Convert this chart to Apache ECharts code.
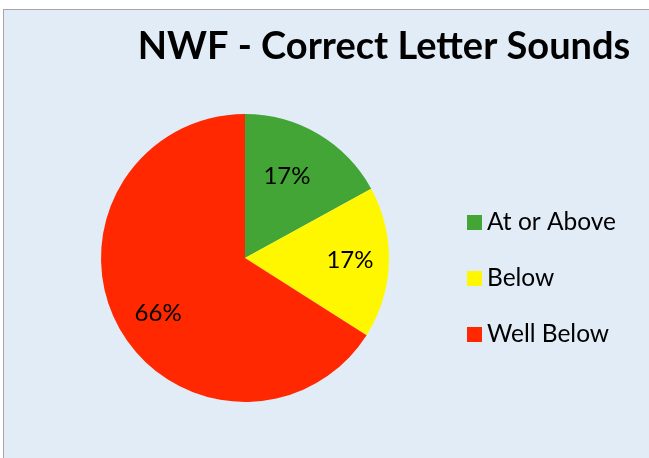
<!DOCTYPE html>
<html><head><meta charset="utf-8">
<script src="https://cdn.jsdelivr.net/npm/echarts@6/dist/echarts.min.js"></script>
<style>
html,body{margin:0;padding:0;background:#ffffff;width:649px;height:458px;overflow:hidden;}
#frame{position:absolute;left:3px;top:9px;width:700px;height:500px;border:1px solid #a6a6a6;background:#E2ECF6;}
#chart{position:absolute;left:0;top:0;width:649px;height:458px;}
</style></head>
<body>
<div id="frame"></div>
<div id="chart"></div>
<script>
const titleText = 'NWF - Correct Letter Sounds';
const categories = ['At or Above', 'Below', 'Well Below'];
const values = [17, 17, 66];
const colors = ['#43A535', '#FFF700', '#FF2800'];

const pieData = categories.map((c, i) => ({ name: c, value: values[i], itemStyle: { color: colors[i] } }));
const chart = echarts.init(document.getElementById('chart'), null, { renderer: 'canvas' });
const offs = [[-12, 10], [-1, -1], [6, 4]];
const labelData = categories.map((c, i) => ({ name: c, value: values[i], label: { offset: offs[i] } }));

chart.setOption({
  backgroundColor: 'transparent',
  animation: false,
  title: {
    text: titleText,
    left: 379, top: 23, textAlign: 'center',
    textStyle: { fontFamily: 'Lato', fontWeight: 'bold', fontSize: 38, color: '#000' }
  },
  legend: {
    orient: 'vertical',
    left: 467, top: 210, padding: 0,
    itemWidth: 15, itemHeight: 15, itemGap: 31,
    icon: 'rect',
    data: categories,
    textStyle: { fontFamily: 'Lato', fontSize: 24.5, lineHeight: 24, color: '#000' }
  },
  series: [
    {
      type: 'pie', center: [245, 258], radius: [0, 144],
      startAngle: 90, clockwise: true,
      label: { show: false }, labelLine: { show: false },
      emphasis: { disabled: true },
      data: pieData
    },
    {
      type: 'pie', center: [245, 258], radius: [62, 144],
      startAngle: 90, clockwise: true, silent: true,
      itemStyle: { color: 'transparent' },
      legendHoverLink: false,
      label: {
        show: true, position: 'inside',
        formatter: p => p.value + '%',
        fontFamily: 'Lato', fontSize: 24, color: '#000'
      },
      labelLine: { show: false },
      data: labelData
    }
  ]
});
</script>
</body></html>
